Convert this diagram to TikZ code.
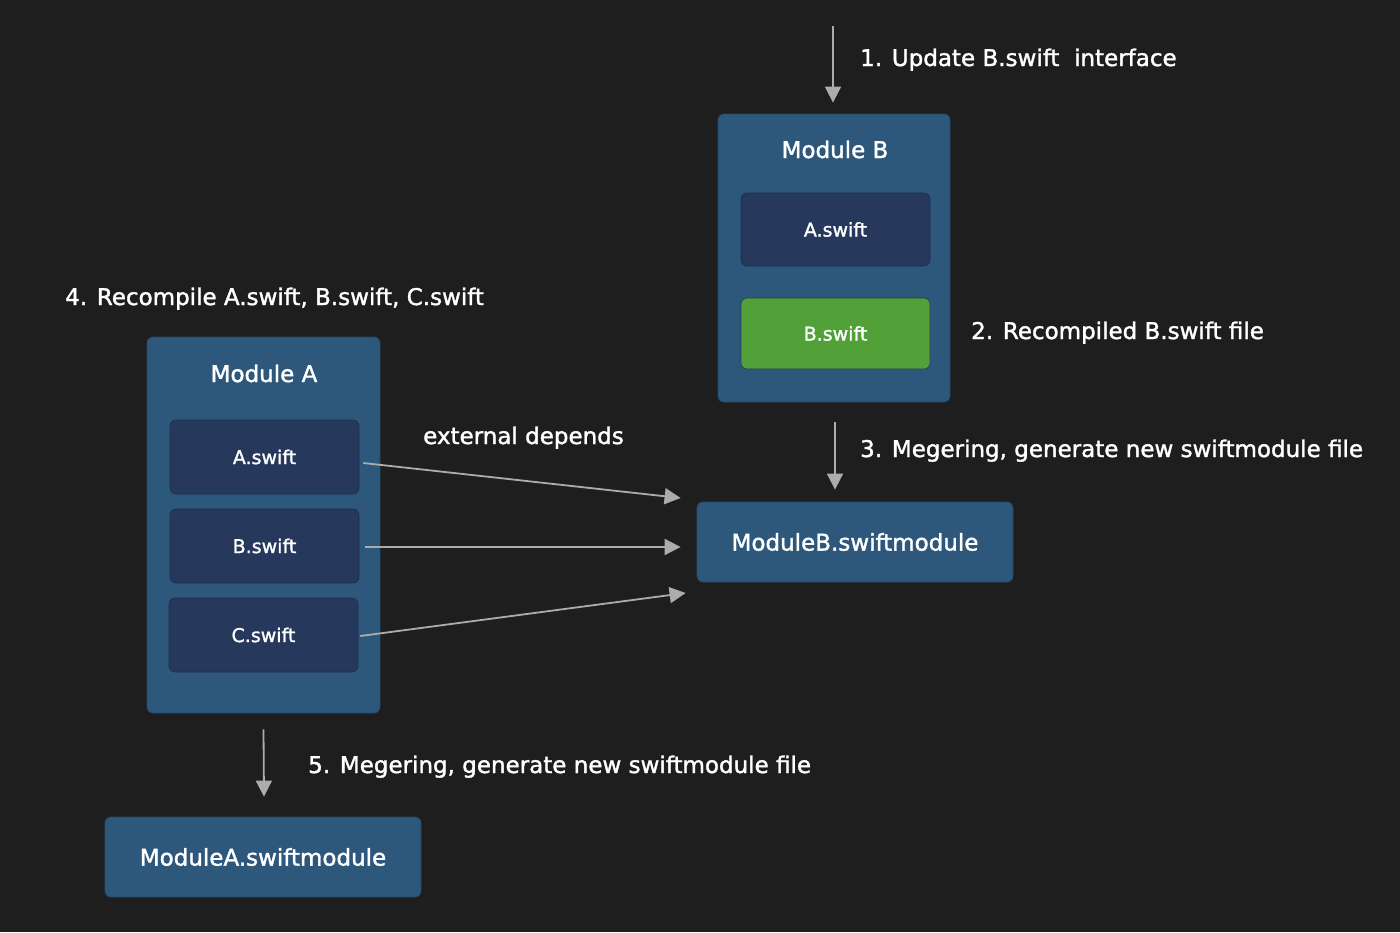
\documentclass[tikz,border=0pt]{standalone}
\usepackage{fontspec}
\setmainfont{DejaVu Sans}[FakeBold=1.5]
\usetikzlibrary{arrows.meta}
\definecolor{bg}{RGB}{30,30,30}
\definecolor{modblue}{RGB}{45,88,124}
\definecolor{modedge}{RGB}{38,72,104}
\definecolor{inner}{RGB}{38,56,92}
\definecolor{green}{RGB}{82,160,56}
\definecolor{arrgray}{RGB}{172,172,172}
\tikzset{
  module/.style={draw=modedge, line width=0.8pt, fill=modblue, rounded corners=6pt, inner sep=0pt},
  filebox/.style={draw=inner!80!black, line width=0.6pt, fill=inner, rounded corners=6pt, minimum width=189pt, minimum height=73pt, inner sep=0pt, text=white, font=\fontsize{19}{22}\selectfont},
  greenbox/.style={filebox, fill=green, draw=inner},
  title/.style={text=white, font=\fontsize{23}{27}\selectfont, inner sep=0pt, anchor=base},
  lbl/.style={text=white, font=\fontsize{23}{27}\selectfont, inner sep=0pt, anchor=base west},
  arr/.style={draw=arrgray, line width=1.8pt, -{Triangle[length=16pt,width=16pt]}},
}
\begin{document}
\begin{tikzpicture}[x=1pt,y=-1pt]
\fill[bg] (0,0) rectangle (1400,932);
\useasboundingbox (0,0) rectangle (1400,932);

% Module B
\node[module, minimum width=232pt, minimum height=288pt] (modB) at (834,258) {};
\node[title] (modBt) at (835,158) {Module B};
\node[filebox] (bA) at (835.5,229.5) {A.swift};
\node[greenbox, minimum height=71pt] (bB) at (835.5,333.5) {B.swift};

% ModuleB.swiftmodule
\node[module, minimum width=316pt, minimum height=80pt, text=white, font=\fontsize{23}{27}\selectfont] (mBsm) at (855,542) {ModuleB.swiftmodule};

% Module A
\node[module, minimum width=233pt, minimum height=376pt] (modA) at (263.5,525) {};
\node[title] (modAt) at (264,382) {Module A};
\node[filebox, minimum height=74pt] (aA) at (264.5,457) {A.swift};
\node[filebox, minimum height=74pt] (aB) at (264.5,546) {B.swift};
\node[filebox, minimum height=74pt] (aC) at (263.5,635) {C.swift};

% ModuleA.swiftmodule
\node[module, minimum width=316pt, minimum height=80pt, text=white, font=\fontsize{23}{27}\selectfont] (mAsm) at (263,857) {ModuleA.swiftmodule};

% labels
\node[lbl] (l1) at (860,66) {1. Update B.swift\ \ interface};
\node[lbl] (l2) at (971,339) {2. Recompiled B.swift file};
\node[lbl] (l3) at (860,457) {3. Megering, generate new swiftmodule file};
\node[lbl] (l4) at (65,305) {4. Recompile A.swift, B.swift, C.swift};
\node[lbl] (l5) at (308,773) {5. Megering, generate new swiftmodule file};
\node[lbl] (ext) at (423,444) {external depends};

% arrows
\coordinate (top) at (833,26);
\draw[arr] (top) -- ([xshift=-1pt,yshift=11pt]modB.north);
\draw[arr] ([xshift=1pt,yshift=-20pt]modB.south) -- ([xshift=-20pt,yshift=12pt]mBsm.north);
\draw[arr] ([yshift=-16pt]modA.south) -- ([xshift=1pt,yshift=20pt]mAsm.north);
\draw[arr] ([xshift=4pt,yshift=-6pt]aA.east) -- ([xshift=-16pt,yshift=44pt]mBsm.west);
\draw[arr] ([xshift=6pt,yshift=-1pt]aB.east) -- ([xshift=-16pt,yshift=-5pt]mBsm.west);
\draw[arr] ([xshift=2pt,yshift=-1pt]aC.east) -- ([xshift=-11pt,yshift=-51pt]mBsm.west);
\end{tikzpicture}
\end{document}
